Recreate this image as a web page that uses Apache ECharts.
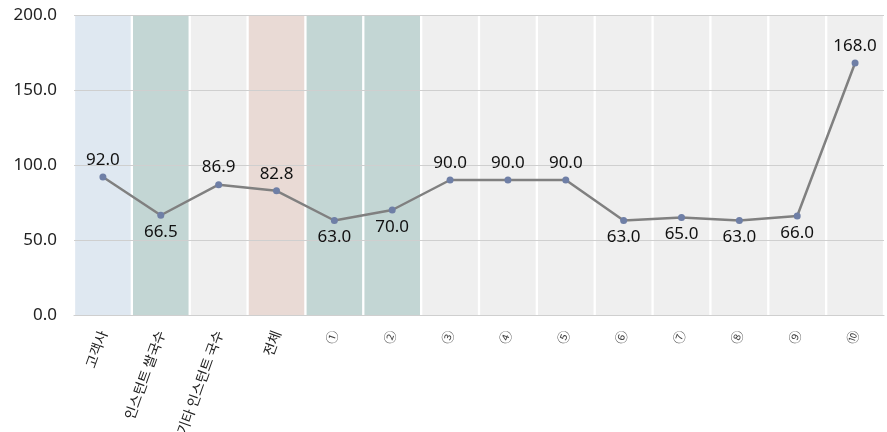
<!DOCTYPE html>
<html>
<head>
<meta charset="utf-8">
<script src="https://cdn.jsdelivr.net/npm/echarts@6/dist/echarts.min.js"></script>
<style>
  html, body { margin: 0; padding: 0; background: #ffffff; }
  #chart { width: 887px; height: 432px; }
</style>
</head>
<body>
<div id="chart"></div>
<script>
// Category labels along the x axis
const categories = ['고객사', '인스턴트 쌀국수', '기타 인스턴트 국수', '전체',
  '①', '②', '③', '④', '⑤', '⑥', '⑦', '⑧', '⑨', '⑩'];
// Index values per category
const values = [92.0, 66.5, 86.9, 82.8, 63.0, 70.0, 90.0, 90.0, 90.0, 63.0, 65.0, 63.0, 66.0, 168.0];
// Where each value label sits relative to its point
const labelSides = ['top', 'bottom', 'top', 'top', 'bottom', 'bottom', 'top', 'top', 'top',
  'bottom', 'bottom', 'bottom', 'bottom', 'top'];
// Background band colour for each category column
const bandColors = ['#dfe8f1', '#c3d6d4', '#efefef', '#e9dad5', '#c3d6d4', '#c3d6d4',
  '#efefef', '#efefef', '#efefef', '#efefef', '#efefef', '#efefef', '#efefef', '#efefef'];
const yMin = 0, yMax = 200, yStep = 50;

const chart = echarts.init(document.getElementById('chart'));
chart.setOption({
  animation: false,
  grid: { left: 74, right: 3, top: 15, bottom: 117, containLabel: false, outerBoundsMode: 'none' },
  xAxis: {
    type: 'category',
    data: categories,
    axisLine: { lineStyle: { color: '#c8c8c8', width: 1 } },
    axisTick: { show: false },
    axisLabel: {
      interval: 0,
      rotate: 70,
      margin: 16,
      color: '#222',
      fontFamily: '"Noto Sans CJK KR", "Noto Sans", sans-serif',
      formatter: function (v) {
        return categories.indexOf(v) >= 4 ? '{c|' + v + '}' : v;
      },
      fontSize: 14,
      rich: { c: { fontSize: 13, color: '#444', fontFamily: '"Noto Sans CJK KR", sans-serif' } }
    }
  },
  yAxis: {
    type: 'value',
    min: yMin, max: yMax, interval: yStep,
    z: 3,
    axisLine: { show: false },
    axisTick: { show: false },
    splitLine: { lineStyle: { color: '#cfcfcf', width: 1 } },
    axisLabel: {
      margin: 17,
      color: '#222',
      fontSize: 17,
      fontFamily: '"Noto Sans", "Open Sans", sans-serif',
      formatter: function (v) { return v.toFixed(1); }
    }
  },
  series: [
    {
      type: 'bar',
      silent: true,
      z: 1,
      barWidth: '96%',
      data: categories.map(function (c, i) {
        return { value: yMax, itemStyle: { color: bandColors[i] } };
      })
    },
    {
      type: 'line',
      z: 5,
      data: values.map(function (v, i) {
        return { value: v, label: { position: labelSides[i] } };
      }),
      symbol: 'circle',
      symbolSize: 7,
      itemStyle: { color: '#6f7fa6' },
      lineStyle: { color: '#808080', width: 2.5 },
      label: {
        show: true,
        distance: 5,
        color: '#111',
        fontSize: 17,
        fontFamily: '"Noto Sans", "Open Sans", sans-serif',
        formatter: function (p) { return p.value.toFixed(1); }
      }
    }
  ]
});
</script>
</body>
</html>
